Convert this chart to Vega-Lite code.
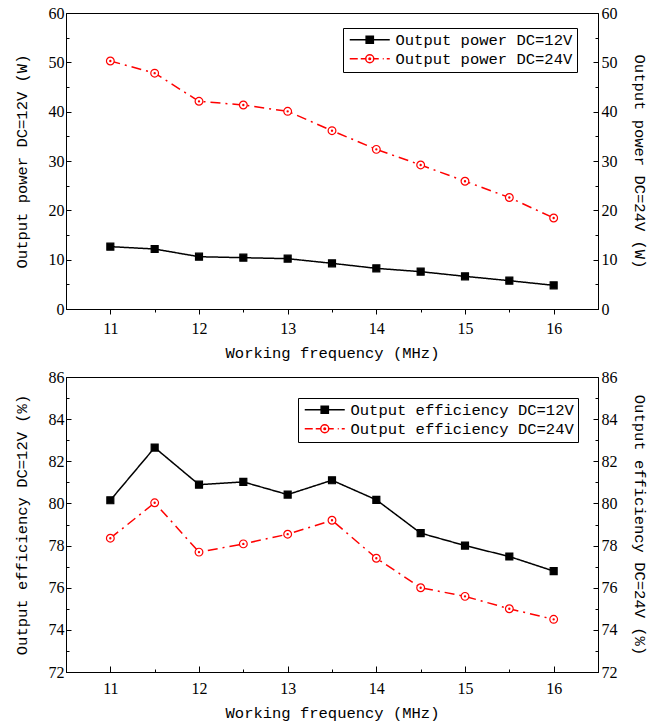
{
  "$schema": "https://vega.github.io/schema/vega-lite/v6.json",
  "padding": {"left": 13, "top": 4, "right": 2, "bottom": 0},
  "config": {
    "view": {"stroke": "#000", "strokeWidth": 1},
    "axis": {
      "labelFont": "Liberation Serif, Times New Roman, serif", "labelFontSize": 16, "labelColor": "#000",
      "titleFont": "Liberation Mono, monospace", "titleFontSize": 15.5, "titleFontWeight": "normal", "titleColor": "#000",
      "domainColor": "#000", "tickColor": "#000", "grid": false
    },
    "legend": {"labelFont": "Liberation Mono, monospace", "labelFontSize": 15.5, "labelColor": "#000", "labelLimit": 400}
  },
  "datasets": {
    "power": [
      {"freq": 11, "series": "Output power DC=12V", "value": 12.64},
      {"freq": 11.5, "series": "Output power DC=12V", "value": 12.16},
      {"freq": 12, "series": "Output power DC=12V", "value": 10.6},
      {"freq": 12.5, "series": "Output power DC=12V", "value": 10.4},
      {"freq": 13, "series": "Output power DC=12V", "value": 10.2},
      {"freq": 13.5, "series": "Output power DC=12V", "value": 9.26},
      {"freq": 14, "series": "Output power DC=12V", "value": 8.24},
      {"freq": 14.5, "series": "Output power DC=12V", "value": 7.57},
      {"freq": 15, "series": "Output power DC=12V", "value": 6.62},
      {"freq": 15.5, "series": "Output power DC=12V", "value": 5.74},
      {"freq": 16, "series": "Output power DC=12V", "value": 4.8},
      {"freq": 11, "series": "Output power DC=24V", "value": 50.27},
      {"freq": 11.5, "series": "Output power DC=24V", "value": 47.8},
      {"freq": 12, "series": "Output power DC=24V", "value": 42.1},
      {"freq": 12.5, "series": "Output power DC=24V", "value": 41.35},
      {"freq": 13, "series": "Output power DC=24V", "value": 40.07},
      {"freq": 13.5, "series": "Output power DC=24V", "value": 36.15},
      {"freq": 14, "series": "Output power DC=24V", "value": 32.36},
      {"freq": 14.5, "series": "Output power DC=24V", "value": 29.2},
      {"freq": 15, "series": "Output power DC=24V", "value": 25.9},
      {"freq": 15.5, "series": "Output power DC=24V", "value": 22.6},
      {"freq": 16, "series": "Output power DC=24V", "value": 18.45}
    ],
    "eff": [
      {"freq": 11, "series": "Output efficiency DC=12V", "value": 80.15},
      {"freq": 11.5, "series": "Output efficiency DC=12V", "value": 82.65},
      {"freq": 12, "series": "Output efficiency DC=12V", "value": 80.89},
      {"freq": 12.5, "series": "Output efficiency DC=12V", "value": 81.02},
      {"freq": 13, "series": "Output efficiency DC=12V", "value": 80.42},
      {"freq": 13.5, "series": "Output efficiency DC=12V", "value": 81.1},
      {"freq": 14, "series": "Output efficiency DC=12V", "value": 80.17},
      {"freq": 14.5, "series": "Output efficiency DC=12V", "value": 78.59},
      {"freq": 15, "series": "Output efficiency DC=12V", "value": 78.0},
      {"freq": 15.5, "series": "Output efficiency DC=12V", "value": 77.48},
      {"freq": 16, "series": "Output efficiency DC=12V", "value": 76.79},
      {"freq": 11, "series": "Output efficiency DC=24V", "value": 78.35},
      {"freq": 11.5, "series": "Output efficiency DC=24V", "value": 80.03},
      {"freq": 12, "series": "Output efficiency DC=24V", "value": 77.69},
      {"freq": 12.5, "series": "Output efficiency DC=24V", "value": 78.08},
      {"freq": 13, "series": "Output efficiency DC=24V", "value": 78.54},
      {"freq": 13.5, "series": "Output efficiency DC=24V", "value": 79.2},
      {"freq": 14, "series": "Output efficiency DC=24V", "value": 77.4},
      {"freq": 14.5, "series": "Output efficiency DC=24V", "value": 76.0},
      {"freq": 15, "series": "Output efficiency DC=24V", "value": 75.59},
      {"freq": 15.5, "series": "Output efficiency DC=24V", "value": 75.0},
      {"freq": 16, "series": "Output efficiency DC=24V", "value": 74.5}
    ]
  },
  "vconcat": [
    {
      "width": 532, "height": 296,
      "data": {"name": "power"},
      "resolve": {"scale": {"y": "independent", "shape": "independent", "stroke": "independent", "fill": "independent", "strokeDash": "independent"}},
      "layer": [
        {
          "mark": {"type": "line", "strokeWidth": 1.5},
          "encoding": {
            "x": {"field": "freq", "type": "quantitative", "scale": {"domain": [10.5, 16.5], "nice": false},
              "axis": {"values": [11, 11.5, 12, 12.5, 13, 13.5, 14, 14.5, 15, 15.5, 16], "labelExpr": "datum.value % 1 === 0 ? format(datum.value, 'd') : ''",
                "tickSize": {"condition": {"test": "datum.value % 1 === 0", "value": 5}, "value": 3},
                "labelPadding": 6, "title": "Working frequency (MHz)", "titlePadding": 9}},
            "y": {"field": "value", "type": "quantitative", "scale": {"domain": [0, 60], "nice": false},
              "axis": {"values": [0, 5, 10, 15, 20, 25, 30, 35, 40, 45, 50, 55, 60], "labelExpr": "datum.value % 10 === 0 ? datum.label : ''",
                "tickSize": {"condition": {"test": "datum.value % 10 === 0", "value": -5}, "value": -3},
                "labelPadding": 7, "title": "Output power DC=12V (W)", "titlePadding": 19}},
            "stroke": {"field": "series", "type": "nominal", "scale": {"domain": ["Output power DC=12V", "Output power DC=24V"], "range": ["#000000", "#ff0000"]}, "legend": null},
            "strokeDash": {"field": "series", "type": "nominal", "scale": {"domain": ["Output power DC=12V", "Output power DC=24V"], "range": [[1, 0], [10, 5, 2, 5]]}, "legend": null}
          }
        },
        {
          "mark": {"type": "point", "size": 60, "strokeWidth": 1.2, "opacity": 1},
          "encoding": {
            "x": {"field": "freq", "type": "quantitative"},
            "y": {"field": "value", "type": "quantitative", "scale": {"domain": [0, 60], "nice": false},
              "axis": {"orient": "right", "values": [0, 5, 10, 15, 20, 25, 30, 35, 40, 45, 50, 55, 60], "labelExpr": "datum.value % 10 === 0 ? datum.label : ''",
                "tickSize": {"condition": {"test": "datum.value % 10 === 0", "value": -5}, "value": -3},
                "labelPadding": 8, "title": "Output power DC=24V (W)", "titlePadding": 14}},
            "shape": {"field": "series", "type": "nominal", "scale": {"domain": ["Output power DC=12V", "Output power DC=24V"], "range": ["M-0.9,-0.9H0.9V0.9H-0.9Z", "M1,0A1,1 0 1,1 -1,0A1,1 0 1,1 1,0ZM0.15,0A0.15,0.15 0 1,1 -0.15,0A0.15,0.15 0 1,1 0.15,0Z"]}, "legend": null},
            "stroke": {"field": "series", "type": "nominal", "scale": {"domain": ["Output power DC=12V", "Output power DC=24V"], "range": ["#000000", "#ff0000"]}, "legend": null},
            "fill": {"field": "series", "type": "nominal", "scale": {"domain": ["Output power DC=12V", "Output power DC=24V"], "range": ["#000000", "#ffffff"]}, "legend": null}
          }
        },
        {
          "transform": [{"filter": "false"}],
          "mark": {"type": "point", "size": 100, "strokeWidth": 1.5, "opacity": 1},
          "encoding": {
            "x": {"field": "freq", "type": "quantitative"},
            "y": {"field": "value", "type": "quantitative", "scale": {"domain": [0, 60], "nice": false}, "axis": null},
            "shape": {"field": "series", "type": "nominal", "scale": {"domain": ["Output power DC=12V", "Output power DC=24V"], "range": ["M-1,0H7M2.28,-0.72H3.72V0.72H2.28Z", "M-1,0H0.6M1.2,0H2.2M3.8,0H4.8M5.6,0H5.8M6.4,0H7M3.8,0A0.8,0.8 0 1,1 2.2,0A0.8,0.8 0 1,1 3.8,0ZM3.16,0A0.16,0.16 0 1,1 2.84,0A0.16,0.16 0 1,1 3.16,0Z"]},
              "legend": {"title": null, "orient": "none", "legendX": 277, "legendY": 15, "symbolSize": 100, "symbolStrokeWidth": 1.5, "strokeColor": "#000", "padding": 4, "labelOffset": 33, "rowPadding": 2}},
            "stroke": {"field": "series", "type": "nominal", "scale": {"domain": ["Output power DC=12V", "Output power DC=24V"], "range": ["#000000", "#ff0000"]},
              "legend": {"title": null, "orient": "none", "legendX": 277, "legendY": 15, "symbolSize": 100, "symbolStrokeWidth": 1.5, "strokeColor": "#000", "padding": 4, "labelOffset": 33, "rowPadding": 2}},
            "fill": {"field": "series", "type": "nominal", "scale": {"domain": ["Output power DC=12V", "Output power DC=24V"], "range": ["#000000", "#ffffff"]},
              "legend": {"title": null, "orient": "none", "legendX": 277, "legendY": 15, "symbolSize": 100, "symbolStrokeWidth": 1.5, "strokeColor": "#000", "padding": 4, "labelOffset": 33, "rowPadding": 2}}
          }
        }
      ]
    },
    {
      "width": 532, "height": 295,
      "data": {"name": "eff"},
      "resolve": {"scale": {"y": "independent", "shape": "independent", "stroke": "independent", "fill": "independent", "strokeDash": "independent"}},
      "layer": [
        {
          "mark": {"type": "line", "strokeWidth": 1.5},
          "encoding": {
            "x": {"field": "freq", "type": "quantitative", "scale": {"domain": [10.5, 16.5], "nice": false},
              "axis": {"values": [11, 11.5, 12, 12.5, 13, 13.5, 14, 14.5, 15, 15.5, 16], "labelExpr": "datum.value % 1 === 0 ? format(datum.value, 'd') : ''",
                "tickSize": {"condition": {"test": "datum.value % 1 === 0", "value": -6}, "value": -3},
                "labelPadding": 14, "title": "Working frequency (MHz)", "titlePadding": 9}},
            "y": {"field": "value", "type": "quantitative", "scale": {"domain": [72, 86], "nice": false},
              "axis": {"values": [72, 73, 74, 75, 76, 77, 78, 79, 80, 81, 82, 83, 84, 85, 86], "labelExpr": "datum.value % 2 === 0 ? datum.label : ''",
                "tickSize": {"condition": {"test": "datum.value % 2 === 0", "value": -5}, "value": -3},
                "labelPadding": 7, "title": "Output efficiency DC=12V (%)", "titlePadding": 19}},
            "stroke": {"field": "series", "type": "nominal", "scale": {"domain": ["Output efficiency DC=12V", "Output efficiency DC=24V"], "range": ["#000000", "#ff0000"]}, "legend": null},
            "strokeDash": {"field": "series", "type": "nominal", "scale": {"domain": ["Output efficiency DC=12V", "Output efficiency DC=24V"], "range": [[1, 0], [10, 5, 2, 5]]}, "legend": null}
          }
        },
        {
          "mark": {"type": "point", "size": 60, "strokeWidth": 1.2, "opacity": 1},
          "encoding": {
            "x": {"field": "freq", "type": "quantitative"},
            "y": {"field": "value", "type": "quantitative", "scale": {"domain": [72, 86], "nice": false},
              "axis": {"orient": "right", "values": [72, 73, 74, 75, 76, 77, 78, 79, 80, 81, 82, 83, 84, 85, 86], "labelExpr": "datum.value % 2 === 0 ? datum.label : ''",
                "tickSize": {"condition": {"test": "datum.value % 2 === 0", "value": -5}, "value": -3},
                "labelPadding": 8, "title": "Output efficiency DC=24V (%)", "titlePadding": 14}},
            "shape": {"field": "series", "type": "nominal", "scale": {"domain": ["Output efficiency DC=12V", "Output efficiency DC=24V"], "range": ["M-0.9,-0.9H0.9V0.9H-0.9Z", "M1,0A1,1 0 1,1 -1,0A1,1 0 1,1 1,0ZM0.15,0A0.15,0.15 0 1,1 -0.15,0A0.15,0.15 0 1,1 0.15,0Z"]}, "legend": null},
            "stroke": {"field": "series", "type": "nominal", "scale": {"domain": ["Output efficiency DC=12V", "Output efficiency DC=24V"], "range": ["#000000", "#ff0000"]}, "legend": null},
            "fill": {"field": "series", "type": "nominal", "scale": {"domain": ["Output efficiency DC=12V", "Output efficiency DC=24V"], "range": ["#000000", "#ffffff"]}, "legend": null}
          }
        },
        {
          "transform": [{"filter": "false"}],
          "mark": {"type": "point", "size": 100, "strokeWidth": 1.5, "opacity": 1},
          "encoding": {
            "x": {"field": "freq", "type": "quantitative"},
            "y": {"field": "value", "type": "quantitative", "scale": {"domain": [72, 86], "nice": false}, "axis": null},
            "shape": {"field": "series", "type": "nominal", "scale": {"domain": ["Output efficiency DC=12V", "Output efficiency DC=24V"], "range": ["M-1,0H7M2.28,-0.72H3.72V0.72H2.28Z", "M-1,0H0.6M1.2,0H2.2M3.8,0H4.8M5.6,0H5.8M6.4,0H7M3.8,0A0.8,0.8 0 1,1 2.2,0A0.8,0.8 0 1,1 3.8,0ZM3.16,0A0.16,0.16 0 1,1 2.84,0A0.16,0.16 0 1,1 3.16,0Z"]},
              "legend": {"title": null, "orient": "none", "legendX": 232, "legendY": 21, "symbolSize": 100, "symbolStrokeWidth": 1.5, "strokeColor": "#000", "padding": 4, "labelOffset": 33, "rowPadding": 2}},
            "stroke": {"field": "series", "type": "nominal", "scale": {"domain": ["Output efficiency DC=12V", "Output efficiency DC=24V"], "range": ["#000000", "#ff0000"]},
              "legend": {"title": null, "orient": "none", "legendX": 232, "legendY": 21, "symbolSize": 100, "symbolStrokeWidth": 1.5, "strokeColor": "#000", "padding": 4, "labelOffset": 33, "rowPadding": 2}},
            "fill": {"field": "series", "type": "nominal", "scale": {"domain": ["Output efficiency DC=12V", "Output efficiency DC=24V"], "range": ["#000000", "#ffffff"]},
              "legend": {"title": null, "orient": "none", "legendX": 232, "legendY": 21, "symbolSize": 100, "symbolStrokeWidth": 1.5, "strokeColor": "#000", "padding": 4, "labelOffset": 33, "rowPadding": 2}}
          }
        }
      ]
    }
  ],
  "spacing": 7
}
